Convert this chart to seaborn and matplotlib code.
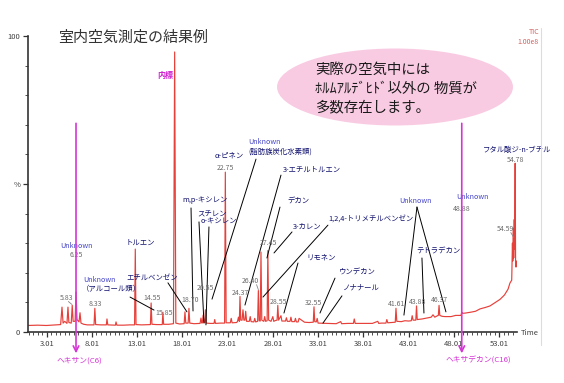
import numpy as np
import pandas as pd
import matplotlib
matplotlib.use("Agg")
import matplotlib.pyplot as plt
from matplotlib.patches import Ellipse
from matplotlib.lines import Line2D
from matplotlib.ticker import FixedLocator, MultipleLocator
import seaborn as sns

# chromatogram trace, retention time (min) vs relative intensity (%)
trace_time = [
    0.95, 2.0, 3.0, 4.0, 4.55, 4.70, 4.82, 5.0, 5.25, 5.36, 5.46, 5.72, 5.83, 5.93, 6.15, 6.25, 6.36, 6.58, 6.69, 6.80, 7.1, 7.5,
    8.24, 8.33, 8.42, 9.0, 9.6, 9.67, 9.76, 10.6, 10.67, 10.76, 11.5, 12.2, 12.72, 12.80, 12.88, 13.5, 14.47, 14.55, 14.64, 15.2,
    15.78, 15.85, 15.93, 16.5, 17.02, 17.15, 17.28, 17.7,
    18.2, 18.29, 18.38, 18.64, 18.73, 18.82, 19.3, 19.96, 20.06, 20.15, 20.22, 20.30, 20.40, 20.48, 20.55, 20.64, 21.1, 21.5,
    21.58, 21.66, 22.2, 22.67, 22.75, 22.84, 23.3, 23.4, 23.5,
    24.0, 24.1, 24.2, 24.3, 24.37, 24.45, 24.6, 24.7, 24.8, 24.92, 25.0, 25.1, 25.4, 25.5, 25.6, 25.9, 26.0, 26.1, 26.32, 26.40,
    26.49, 26.61, 26.69, 26.78, 27.0, 27.1, 27.2, 27.37, 27.45, 27.54, 27.8, 28.0, 28.1, 28.3, 28.47, 28.55, 28.64, 28.9, 29.0,
    29.4, 29.5, 29.6, 29.9, 30.0, 30.1, 30.4, 30.5, 30.6, 30.8, 30.9, 31.5, 32.0, 32.47, 32.55, 32.63, 32.8, 32.9, 33.0, 34.0,
    35.0, 35.5, 35.6, 36.3, 36.9, 37.0, 37.1, 38.0, 39.0, 39.6, 39.7, 40.0, 40.5, 40.6, 40.7,
    41.53, 41.61, 41.70, 42.2, 42.6, 43.0, 43.3, 43.4, 43.5, 43.8, 43.88, 43.96, 44.5, 45.0, 45.5, 45.7, 45.9, 46.2, 46.29, 46.37,
    46.45, 46.7, 47.0, 47.7, 48.2, 48.8, 48.88, 48.96, 49.3,
    49.9, 50.4, 50.9, 51.5, 52.0, 52.5, 53.1, 53.6, 54.0, 54.2, 54.4, 54.48, 54.52, 54.56, 54.59, 54.62, 54.68, 54.72, 54.78,
    54.83, 54.9, 54.95,
]
trace_pct = [
    2.2, 2.3, 2.2, 2.4, 2.5, 8.4, 3.0, 3.6, 2.9, 8.4, 3.2, 3.0, 9.0, 3.6, 3.6, 13.5, 4.2, 3.4, 6.5, 3.0, 2.6, 2.4,
    2.4, 8.0, 2.5, 2.4, 2.4, 4.4, 2.4, 2.3, 3.4, 2.3, 2.3, 2.4, 2.4, 28.0, 2.5, 2.4, 2.5, 9.8, 2.6, 2.5,
    2.5, 6.7, 2.6, 2.6, 2.8, 94.6, 3.0, 2.7,
    2.8, 6.8, 3.0, 3.0, 8.0, 3.0, 2.8, 2.9, 4.7, 3.0, 3.1, 5.7, 3.2, 3.2, 7.5, 3.0, 2.9, 2.9,
    4.2, 2.9, 3.0, 3.0, 54.0, 3.1, 3.1, 4.6, 3.1,
    3.2, 3.6, 5.0, 3.6, 12.0, 4.0, 4.0, 7.5, 4.0, 4.0, 7.0, 3.6, 3.6, 5.2, 3.5, 3.4, 4.6, 3.4, 3.6, 14.0,
    3.8, 3.7, 27.0, 4.0, 3.6, 5.2, 3.6, 3.8, 27.5, 4.0, 3.6, 5.2, 3.6, 3.9, 4.0, 9.0, 4.0, 5.5, 3.7,
    3.7, 4.8, 3.6, 3.6, 5.0, 3.5, 3.5, 4.6, 3.4, 3.4, 4.6, 3.3, 3.2, 3.3, 8.5, 3.5, 3.4, 4.6, 3.0, 2.9,
    2.8, 3.5, 2.8, 2.9, 2.9, 4.4, 2.9, 2.9, 2.9, 3.6, 2.9, 3.0, 3.0, 4.2, 3.1,
    3.3, 8.0, 3.6, 3.5, 3.8, 3.7, 3.8, 5.5, 4.0, 4.0, 8.8, 4.2, 4.4, 4.7, 5.0, 5.8, 5.0, 5.5, 5.6, 9.0,
    5.6, 5.3, 5.2, 5.2, 5.6, 5.6, 6.7, 6.3, 6.4,
    6.7, 7.0, 7.8, 8.3, 8.8, 9.8, 11.0, 12.5, 14.5, 16.5, 17.5, 30.0, 24.0, 33.0, 35.0, 25.0, 38.0, 28.0, 57.0,
    22.0, 24.0, 22.0,
]

tick_times = [3.01, 8.01, 13.01, 18.01, 23.01, 28.01, 33.01, 38.01, 43.01, 48.01, 53.01]
tick_labels = ["3.01", "8.01", "13.01", "18.01", "23.01", "28.01", "33.01", "38.01", "43.01", "48.01", "53.01"]

# reference alkanes marked with arrows
marker_times = [6.25, 48.88]
marker_names = ["ヘキサン(C6)", "ヘキサデカン(C16)"]

# labels: (x, y, text, kind, ha)
labels = [
    (6.25, 29.1, "Unknown", "unk", "center"),
    (6.3, 26.0, "6.25", "num", "center"),
    (7.02, 17.6, "Unknown", "unk", "left"),
    (6.9, 14.5, "（アルコール類）", "jp", "left"),
    (4.48, 11.5, "5.83", "num", "left"),
    (8.33, 9.5, "8.33", "num", "center"),
    (11.77, 30.1, "トルエン", "jp", "left"),
    (13.65, 11.5, "14.55", "num", "left"),
    (14.98, 6.4, "15.85", "num", "left"),
    (11.77, 18.2, "エチルベンゼン", "jp", "left"),
    (17.85, 10.8, "18.70", "num", "left"),
    (17.96, 44.6, "m,p-キシレン", "jp", "left"),
    (19.62, 40.2, "スチレン", "jp", "left"),
    (20.06, 37.2, "o-キシレン", "jp", "left"),
    (19.62, 14.9, "20.55", "num", "left"),
    (21.61, 59.5, "α-ピネン", "jp", "left"),
    (21.83, 55.4, "22.75", "num", "left"),
    (25.25, 64.2, "Unknown", "unk", "left"),
    (25.25, 61.1, "(脂肪族炭化水素類)", "jp", "left"),
    (29.12, 54.7, "3-エチルトルエン", "jp", "left"),
    (29.56, 43.9, "デカン", "jp", "left"),
    (30.23, 35.5, "3-カレン", "jp", "left"),
    (34.09, 38.2, "1,2,4-トリメチルベンゼン", "jp", "left"),
    (26.58, 30.1, "27.45", "num", "left"),
    (24.59, 17.2, "26.40", "num", "left"),
    (23.49, 13.2, "24.37", "num", "left"),
    (31.66, 25.3, "リモネン", "jp", "left"),
    (27.69, 10.1, "28.55", "num", "left"),
    (35.31, 19.9, "ウンデカン", "jp", "left"),
    (35.75, 14.9, "ノナナール", "jp", "left"),
    (31.55, 9.8, "32.55", "num", "left"),
    (41.94, 44.3, "Unknown", "unk", "left"),
    (43.82, 27.0, "テトラデカン", "jp", "left"),
    (40.72, 9.5, "41.61", "num", "left"),
    (43.04, 10.1, "43.88", "num", "left"),
    (45.48, 10.8, "46.37", "num", "left"),
    (48.24, 45.6, "Unknown", "unk", "left"),
    (47.91, 41.6, "48.88", "num", "left"),
    (51.22, 61.6, "フタル酸ジ-n-ブチル", "jp", "left"),
    (53.87, 58.2, "54.78", "num", "left"),
    (52.77, 34.8, "54.59", "num", "left"),
]

# leader lines from labels to peaks
leaders = [
    ((12.22, 11.8), (14.87, 7.4)),
    ((16.41, 16.6), (18.51, 6.8)),
    ((18.96, 41.9), (19.18, 7.1)),
    ((19.84, 37.2), (20.39, 3.0)),
    ((20.94, 35.5), (20.61, 2.4)),
    ((26.14, 58.4), (21.28, 11.1)),
    ((28.90, 53.0), (24.92, 9.1)),
    ((28.79, 42.2), (27.35, 25.0)),
    ((30.12, 33.8), (28.13, 26.7)),
    ((34.09, 36.1), (26.91, 11.8)),
    ((30.78, 23.3), (29.23, 6.4)),
    ((34.87, 18.2), (33.21, 6.4)),
    ((35.64, 12.2), (33.54, 3.0)),
    ((43.93, 42.2), (42.49, 5.7)),
    ((43.93, 42.2), (47.13, 6.8)),
    ((44.48, 25.0), (44.70, 6.4)),
]

styles = {
    "unk": dict(fontsize=5.2, color="#4646c8"),
    "num": dict(fontsize=5.0, color="#6a6a6a"),
    "jp": dict(fontsize=5.3, color="#10106e"),
}

sns.set_style("ticks")
plt.rcParams['font.family'] = ['Noto Sans CJK JP', 'DejaVu Sans']

df = pd.DataFrame({"time": trace_time, "pct": trace_pct})

fig = plt.figure(figsize=(5.64, 3.83), dpi=100)
ax = fig.add_axes([0.0496, 0.1332, 0.867, 0.7728])

sns.lineplot(data=df, x="time", y="pct", ax=ax, color="#e6403a", lw=0.85,
             estimator=None, sort=False)

ax.set_xlim(0.94, 54.98)
ax.set_ylim(0, 100)
ax.set_xlabel("")
ax.set_ylabel("")
sns.despine(ax=ax)
for s in ["left", "bottom"]:
    ax.spines[s].set_color("#333333")
    ax.spines[s].set_linewidth(1.2)

ax.set_xticks(tick_times)
ax.set_xticklabels(tick_labels)
ax.xaxis.set_minor_locator(FixedLocator(np.arange(1.01, 55, 0.5)))
ax.set_yticks([0, 50, 100])
ax.set_yticklabels(["0", "%", "100"])
ax.yaxis.set_minor_locator(MultipleLocator(10))
ax.tick_params(which="major", length=3.5, width=0.9, color="#333333",
               labelsize=5.5, labelcolor="#404040", pad=2)
ax.tick_params(which="minor", length=2, width=0.6, color="#333333")

# internal standard
ax.text(16.97, 86.8, "内標", fontsize=5.8, color="#d020d0", fontweight="bold",
        ha="right", va="center")

for (x, y, txt, kind, ha) in labels:
    ax.text(x, y, txt, ha=ha, va="center", **styles[kind])

for (a, b) in leaders:
    ax.plot([a[0], b[0]], [a[1], b[1]], color="black", lw=0.7)

# small gray ticks from numbers to peaks
ax.plot([5.4, 5.8], [10.3, 9.3], color="#888888", lw=0.6)
ax.plot([26.2, 26.4], [16.0, 14.3], color="#888888", lw=0.6)
ax.plot([54.3, 54.6], [33.6, 32.0], color="#888888", lw=0.6)

for t, name, dx in zip(marker_times, marker_names, [0.35, -1.75]):
    ax.annotate("", xy=(t, -7.2), xytext=(t, 70.5), annotation_clip=False,
                arrowprops=dict(arrowstyle="->", color="#d535d5", lw=1.2,
                                shrinkA=0, shrinkB=0))
    ax.text(t + dx, -9.6, name, fontsize=5.6, color="#d535d5",
            ha="center" if dx > 0 else "left", va="center")

fig.text(58 / 564, 1 - 38 / 383, "室内空気測定の結果例", fontsize=10.8,
         color="#333333", va="center")

bubble = Ellipse((395 / 564, 1 - 87 / 383), 236 / 564, 77 / 383,
                 transform=fig.transFigure, facecolor="#f9cbe3", edgecolor="none")
fig.add_artist(bubble)
for i, line in enumerate(["実際の空気中には", "ﾎﾙﾑｱﾙﾃﾞﾋﾄﾞ以外の 物質が", "多数存在します。"]):
    fig.text(315 / 564, 1 - (70 + 18.5 * i) / 383, line, fontsize=10.4,
             color="#1a1a1a", va="center")

fig.add_artist(Line2D([541 / 564, 541 / 564], [1 - 28 / 383, 1 - 345 / 383],
                      color="#dcdcdc", lw=0.8))
fig.text(539 / 564, 1 - 32 / 383, "TIC", fontsize=5, color="#d06060", ha="right", va="center")
fig.text(539 / 564, 1 - 42 / 383, "1.00e8", fontsize=5, color="#d06060", ha="right", va="center")
fig.text(521 / 564, 1 - 333 / 383, "Time", fontsize=5.5, color="#404040", va="center")

fig.savefig("out.png", dpi=100)
